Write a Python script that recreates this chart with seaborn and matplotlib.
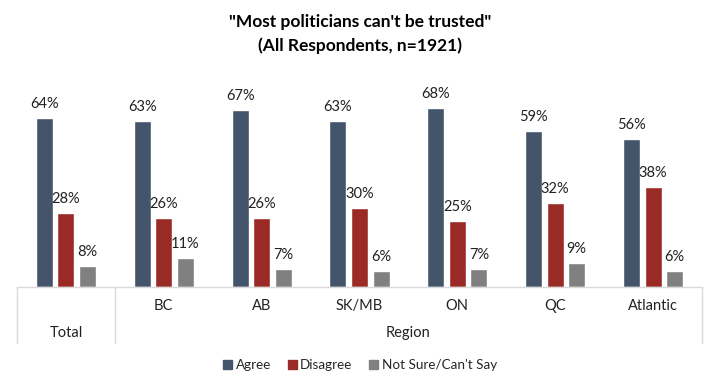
import matplotlib
matplotlib.use("Agg")
import matplotlib.pyplot as plt
import matplotlib.transforms as mtransforms
import pandas as pd
import seaborn as sns

# ---------------------------------------------------------------------------
# Data
# ---------------------------------------------------------------------------
categories = ["Total", "BC", "AB", "SK/MB", "ON", "QC", "Atlantic"]
agree = [64, 63, 67, 63, 68, 59, 56]
disagree = [28, 26, 26, 30, 25, 32, 38]
not_sure = [8, 11, 7, 6, 7, 9, 6]
series_names = ["Agree", "Disagree", "Not Sure/Can't Say"]
palette = {"Agree": "#44546A", "Disagree": "#9A2A26", "Not Sure/Can't Say": "#808080"}

df = pd.DataFrame({
    "category": categories * 3,
    "series": [series_names[0]] * 7 + [series_names[1]] * 7 + [series_names[2]] * 7,
    "value": agree + disagree + not_sure,
})

sns.set_style("white")
plt.rcParams["font.family"] = ["Lato", "DejaVu Sans"]

W, H = 720, 389
fig = plt.figure(figsize=(W / 100, H / 100), dpi=100)
ax = fig.add_axes([17 / W, (H - 287) / H, (702 - 17) / W, 211 / H])

sns.barplot(
    data=df, x="category", y="value", hue="series", order=categories,
    hue_order=series_names, palette=palette, width=0.66, gap=0.21,
    saturation=1, ax=ax, legend=False,
)

for cont in ax.containers:
    ax.bar_label(cont, fmt="{:.0f}%", padding=5, fontsize=10.5, color="#222222")

ax.set_ylim(0, 80)
ax.set_xlim(-0.5, len(categories) - 0.5)
ax.set_xlabel("")
ax.set_ylabel("")
ax.set_yticks([])
ax.set_xticks([])
for side in ["top", "right", "left"]:
    ax.spines[side].set_visible(False)
ax.spines["bottom"].set_color("#D9D9D9")
ax.spines["bottom"].set_linewidth(1)

# category axis with grouping
trans = mtransforms.blended_transform_factory(ax.transData, ax.transAxes)
line_bottom = -(343 - 287) / 211
for xpos in [-0.5, 0.5, len(categories) - 0.5]:
    ax.plot([xpos, xpos], [0, line_bottom], transform=trans, color="#D9D9D9",
            lw=1, clip_on=False)
for i, cat in enumerate(categories):
    ypos = -(333 - 287) / 211 if cat == "Total" else -(306 - 287) / 211
    ax.text(i, ypos, cat, transform=trans, ha="center", va="center",
            fontsize=10.5, color="#222222")
ax.text((1 + len(categories) - 1) / 2, -(333 - 287) / 211, "Region",
        transform=trans, ha="center", va="center", fontsize=10.5, color="#222222")

# legend
handles = [plt.Rectangle((0, 0), 1, 1, color=palette[s]) for s in series_names]
fig.legend(handles, series_names, loc="center", bbox_to_anchor=(0.5, 1 - 365 / H),
           ncol=3, frameon=False, fontsize=9.7, handlelength=0.67, handleheight=0.67,
           handletextpad=0.25, columnspacing=1.25)

fig.text(0.5, 1 - 22 / H, "\"Most politicians can't be trusted\"", ha="center",
         va="center", fontsize=12.5, fontweight="bold", color="#000000")
fig.text(0.5, 1 - 46 / H, "(All Respondents, n=1921)", ha="center",
         va="center", fontsize=12.5, fontweight="bold", color="#000000")

fig.savefig("out.png", dpi=100)
